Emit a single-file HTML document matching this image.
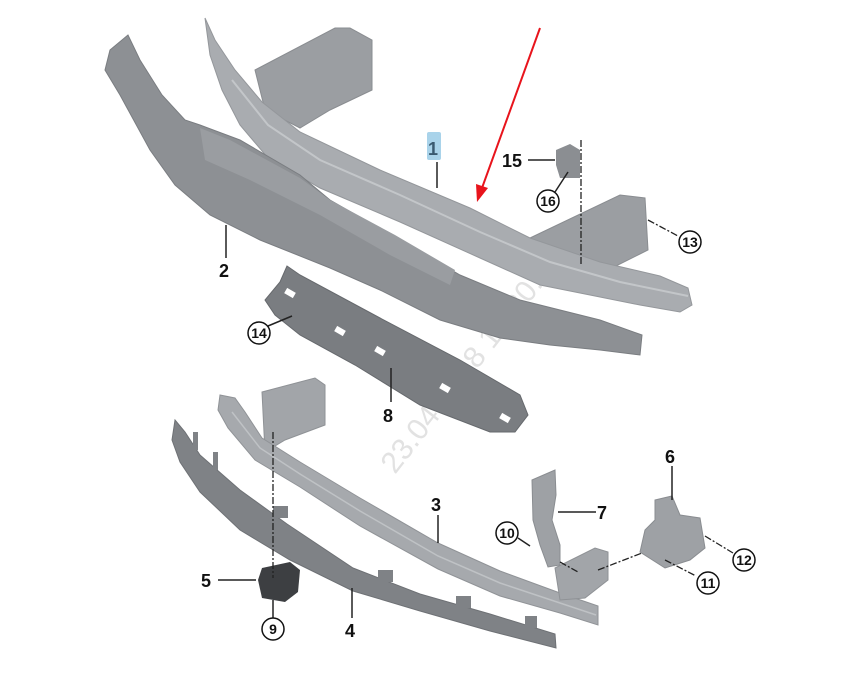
<!DOCTYPE html>
<html><head><meta charset="utf-8">
<style>
html,body{margin:0;padding:0;background:#fff;}
svg{display:block;}
text{font-family:"Liberation Sans",Arial,sans-serif;font-weight:bold;fill:#111;}
</style></head>
<body>
<svg width="843" height="688" viewBox="0 0 843 688" xmlns="http://www.w3.org/2000/svg">
<text x="0" y="0" transform="translate(395,475) rotate(-52)" style="font-weight:normal;font-size:30px;fill:#e2e2e2">23.04.2018 10:20:43</text>

<polygon points="255,70 335,28 350,28 372,40 372,90 330,110 300,128 265,110" fill="#9b9ea2" stroke="#8a8d91" stroke-width="1"/>
<polygon points="530,238 620,195 645,198 648,250 612,268 565,262" fill="#9b9ea2" stroke="#8a8d91"/>
<polygon points="205,18 215,40 235,70 262,102 300,132 380,170 470,208 530,238 600,262 660,276 688,288 692,305 680,312 640,305 590,295 540,285 480,258 400,222 320,188 268,158 240,125 222,90 210,55" fill="#a9acb0" stroke="#94979b"/>
<polyline points="232,80 268,125 320,160 400,195 480,232 550,262 620,282 688,296" fill="none" stroke="#c3c6c9" stroke-width="2"/>

<polygon points="110,50 128,35 140,60 162,95 185,120 200,125 240,140 300,175 330,200 400,240 460,275 520,300 600,320 642,335 640,355 600,350 550,345 500,338 440,320 380,290 330,268 260,240 210,215 175,185 150,150 120,95 105,70" fill="#8d9094" stroke="#7a7d81"/>
<polygon points="200,128 230,140 300,178 330,200 395,235 455,270 450,285 390,255 320,215 250,180 205,160" fill="#9a9da1"/>

<polygon points="287,266 300,275 380,318 460,360 520,395 528,415 515,432 490,432 420,405 355,365 300,335 275,315 265,300 280,282" fill="#7a7d81" stroke="#66696d"/>
<g fill="#fff">
<rect x="285" y="290" width="10" height="6" transform="rotate(30 290 293)"/>
<rect x="335" y="328" width="10" height="6" transform="rotate(30 340 331)"/>
<rect x="375" y="348" width="10" height="6" transform="rotate(30 380 351)"/>
<rect x="440" y="385" width="10" height="6" transform="rotate(30 445 388)"/>
<rect x="500" y="415" width="10" height="6" transform="rotate(30 505 418)"/>
</g>

<polygon points="262,392 315,378 325,385 325,425 285,440 265,452" fill="#a2a5a9" stroke="#8f9296"/>
<polygon points="220,395 235,398 245,412 262,438 300,462 360,498 438,543 500,571 560,593 598,606 598,625 560,613 500,596 438,569 360,526 300,487 255,460 228,428 218,410" fill="#a6a9ad" stroke="#909397"/>
<polyline points="232,412 260,448 300,474 360,511 438,556 500,583 560,603 596,615" fill="none" stroke="#bfc2c5" stroke-width="1.5"/>
<polygon points="555,568 595,548 608,552 608,580 585,598 560,600" fill="#a2a5a9" stroke="#8f9296"/>

<polygon points="175,420 185,432 200,455 240,490 287,524 353,568 420,594 490,614 555,634 556,648 490,631 420,611 353,591 290,560 240,530 200,492 180,462 172,440" fill="#7f8286" stroke="#6e7175"/>
<g fill="#7f8286">
<rect x="193" y="432" width="5" height="18"/>
<rect x="213" y="452" width="5" height="18"/>
<rect x="273" y="506" width="15" height="12"/>
<rect x="378" y="570" width="15" height="12"/>
<rect x="456" y="596" width="15" height="12"/>
<rect x="525" y="616" width="12" height="12"/>
</g>

<polygon points="262,568 290,562 300,570 298,592 285,602 262,598 258,580" fill="#3d3f42"/>
<polygon points="532,480 555,470 556,495 552,520 560,545 560,565 548,567 540,545 533,520" fill="#9ea1a5" stroke="#8a8d91"/>
<polygon points="655,500 672,496 680,515 700,518 705,548 690,560 665,568 640,552 645,530 655,520" fill="#9ea1a5" stroke="#8a8d91"/>
<polygon points="556,150 570,144 580,150 580,178 560,178 556,165" fill="#8b8e92"/>

<g stroke="#222" stroke-width="1.3" fill="none" stroke-dasharray="7,2,2,2">
<line x1="581" y1="140" x2="581" y2="265"/>
<line x1="273" y1="432" x2="273" y2="578"/>
<line x1="648" y1="220" x2="678" y2="236"/>
<line x1="598" y1="570" x2="642" y2="553"/>
<line x1="705" y1="536" x2="733" y2="553"/>
<line x1="665" y1="560" x2="696" y2="576"/>
<line x1="560" y1="562" x2="578" y2="572"/>
</g>

<g stroke="#222" stroke-width="1.5">
<line x1="437" y1="162" x2="437" y2="188"/>
<line x1="226" y1="225" x2="226" y2="258"/>
<line x1="528" y1="160" x2="555" y2="160"/>
<line x1="555" y1="192" x2="568" y2="172"/>
<line x1="268" y1="326" x2="292" y2="316"/>
<line x1="391" y1="368" x2="391" y2="402"/>
<line x1="438" y1="515" x2="438" y2="543"/>
<line x1="558" y1="512" x2="596" y2="512"/>
<line x1="518" y1="538" x2="530" y2="546"/>
<line x1="672" y1="466" x2="672" y2="500"/>
<line x1="218" y1="580" x2="256" y2="580"/>
<line x1="273" y1="600" x2="273" y2="618"/>
<line x1="352" y1="588" x2="352" y2="618"/>
</g>

<line x1="540" y1="28" x2="482" y2="188" stroke="#e8141c" stroke-width="2"/>
<polygon points="477,202 476,184 488,188" fill="#e8141c"/>

<rect x="427" y="132" width="14" height="28" rx="2" fill="#a9d3ea"/>
<text x="428" y="155" font-size="18" style="fill:#3a5a70">1</text>
<text x="219" y="277" font-size="18">2</text>
<text x="502" y="167" font-size="18">15</text>
<text x="383" y="422" font-size="18">8</text>
<text x="431" y="511" font-size="18">3</text>
<text x="597" y="519" font-size="18">7</text>
<text x="665" y="463" font-size="18">6</text>
<text x="201" y="587" font-size="18">5</text>
<text x="345" y="637" font-size="18">4</text>

<g fill="#fff" stroke="#111" stroke-width="1.5">
<circle cx="548" cy="201" r="11"/>
<circle cx="690" cy="242" r="11"/>
<circle cx="259" cy="333" r="11"/>
<circle cx="507" cy="533" r="11"/>
<circle cx="744" cy="560" r="11"/>
<circle cx="708" cy="583" r="11"/>
<circle cx="273" cy="629" r="11"/>
</g>
<g text-anchor="middle">
<text x="548" y="206" font-size="14">16</text>
<text x="690" y="247" font-size="14">13</text>
<text x="259" y="338" font-size="14">14</text>
<text x="507" y="538" font-size="14">10</text>
<text x="744" y="565" font-size="14">12</text>
<text x="708" y="588" font-size="14">11</text>
<text x="273" y="634" font-size="14">9</text>
</g>
</svg>
</body></html>
